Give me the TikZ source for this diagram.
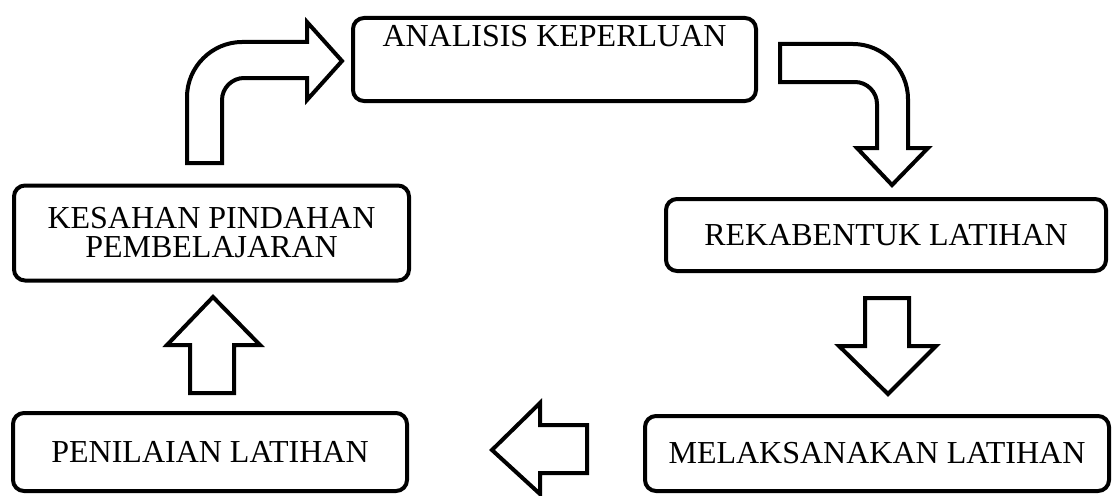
\documentclass[tikz,border=0pt]{standalone}
\usepackage{fontspec}
\setmainfont{Liberation Serif}
\begin{document}
\begin{tikzpicture}[x=1pt,y=-1pt,
  stepbox/.style={draw=black, line width=4pt, rounded corners=11pt, fill=white,
    inner sep=0pt, align=center, font=\fontsize{32}{29}\selectfont},
  blockarrow/.style={draw=black, line width=4pt, fill=white, line join=miter}]
\useasboundingbox (0,0) rectangle (1113,495);

% process steps
\node[stepbox, anchor=north, minimum width=403pt, text height=29pt, text depth=54pt]
  (analisis) at (554.5,16) {ANALISIS KEPERLUAN};
\node[stepbox, minimum width=395pt, minimum height=95pt]
  (kesahan) at (211.5,233) {KESAHAN PINDAHAN\\PEMBELAJARAN};
\node[stepbox, minimum width=440pt, minimum height=72pt]
  (rekabentuk) at (886,235) {REKABENTUK LATIHAN};
\node[stepbox, minimum width=464pt, minimum height=75pt]
  (melaksana) at (877,453.5) {MELAKSANAKAN LATIHAN};
\node[stepbox, minimum width=394pt, minimum height=78pt]
  (penilaian) at (210,452) {PENILAIAN LATIHAN};

% bent arrow: kesahan -> analisis
\draw[blockarrow] (187,163) -- (187,97)
  .. controls (187,67) and (212,42) .. (242,42)
  -- (307,42) -- (307,22) -- (342,61) -- (307,100) -- (307,78)
  -- (244,78) .. controls (232,78) and (222,88) .. (222,100)
  -- (222,163) -- cycle;

% bent arrow: analisis -> rekabentuk
\draw[blockarrow] (780,44) -- (853,44)
  .. controls (883,44) and (908,69) .. (908,99)
  -- (908,148) -- (928,148) -- (892,185) -- (857,148) -- (877,148)
  -- (877,104) .. controls (877,92) and (867,82) .. (855,82)
  -- (780,82) -- cycle;

% down arrow: rekabentuk -> melaksana
\draw[blockarrow] (865,298) -- (909,298) -- (909,346) -- (936,346)
  -- (888,394) -- (839,346) -- (865,346) -- cycle;

% left arrow: melaksana -> penilaian
\draw[blockarrow] (587,425) -- (587,473) -- (540,473) -- (540,494)
  -- (492,450) -- (540,403) -- (540,425) -- cycle;

% up arrow: penilaian -> kesahan
\draw[blockarrow] (190,393) -- (190,345) -- (167,345) -- (213,297)
  -- (260,345) -- (234,345) -- (234,393) -- cycle;
\end{tikzpicture}
\end{document}
